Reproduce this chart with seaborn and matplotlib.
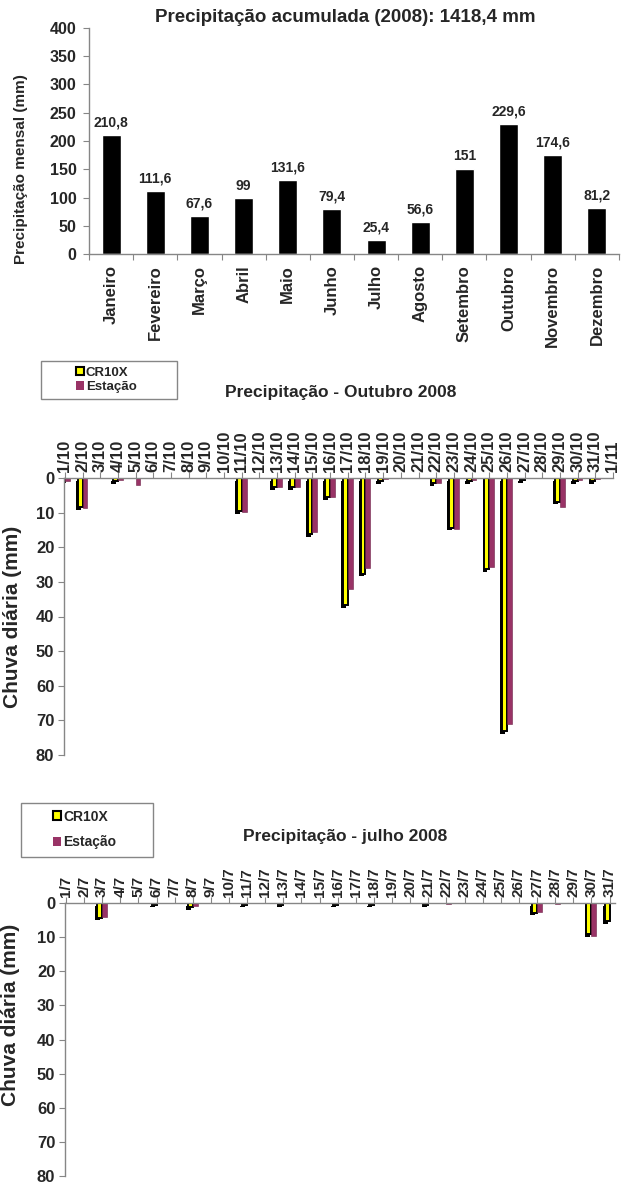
import numpy as np
import pandas as pd
import matplotlib
matplotlib.use("Agg")
import matplotlib.pyplot as plt
import seaborn as sns
from matplotlib import patheffects as pe
from matplotlib.patches import Rectangle, Patch

# ---------------- data ----------------
meses = ['Janeiro', 'Fevereiro', 'Março', 'Abril', 'Maio', 'Junho', 'Julho',
         'Agosto', 'Setembro', 'Outubro', 'Novembro', 'Dezembro']
precip_mensal = [210.8, 111.6, 67.6, 99, 131.6, 79.4, 25.4, 56.6, 151, 229.6, 174.6, 81.2]

dias_out = ['1/10', '2/10', '3/10', '4/10', '5/10', '6/10', '7/10', '8/10', '9/10', '10/10',
            '11/10', '12/10', '13/10', '14/10', '15/10', '16/10', '17/10', '18/10', '19/10',
            '20/10', '21/10', '22/10', '23/10', '24/10', '25/10', '26/10', '27/10', '28/10',
            '29/10', '30/10', '31/10', '1/11']
cr10x_out = [1.2, 8.4, 0, 0.8, 0, 0, 0, 0, 0, 0, 9.5, 0, 2.6, 2.6, 16.3, 5.6, 36.6, 27.6,
             0.8, 0, 0, 1.4, 14.3, 1.0, 26.4, 73.2, 0.6, 0, 6.8, 0.8, 0.8, 0]
estacao_out = [0.8, 8.8, 0, 0.5, 2.0, 0, 0, 0, 0, 0, 9.8, 0, 2.5, 2.5, 15.6, 5.6, 32.1, 26.0,
               0.3, 0, 0, 1.5, 14.8, 0.6, 25.8, 71.0, 0, 0, 8.3, 0.6, 0.3, 0]

dias_jul = ['1/7', '2/7', '3/7', '4/7', '5/7', '6/7', '7/7', '8/7', '9/7', '10/7', '11/7',
            '12/7', '13/7', '14/7', '15/7', '16/7', '17/7', '18/7', '19/7', '20/7', '21/7',
            '22/7', '23/7', '24/7', '25/7', '26/7', '27/7', '28/7', '29/7', '30/7', '31/7']
cr10x_jul = [0, 0, 4.3, 0, 0, 0.5, 0, 1.2, 0, 0, 0.5, 0, 0.5, 0, 0, 0.5, 0, 0.5, 0, 0,
             0.5, 0, 0, 0, 0, 0, 2.8, 0, 0, 9.2, 5.3]
estacao_jul = [0, 0, 4.1, 0, 0, 0, 0, 0.9, 0, 0, 0, 0, 0, 0, 0, 0, 0, 0, 0, 0,
               0, 0.3, 0, 0, 0, 0, 2.6, 0.3, 0, 9.6, 0]

series = ['CR10X', 'Estação']

# ---------------- style ----------------
sns.set_theme(style='white')
plt.rcParams['font.family'] = ['Liberation Sans', 'DejaVu Sans']
plt.rcParams['font.weight'] = 'bold'
plt.rcParams['axes.labelweight'] = 'bold'

AMARELO = '#FFFF00'
MAGENTA = '#993366'
CINZA = '#868686'

W, H = 632, 1185
fig = plt.figure(figsize=(W / 100, H / 100), dpi=100)


def fx(px):
    return px / W


def fy(py):
    return 1 - py / H


# ---------------- top chart ----------------
ax0 = fig.add_axes([fx(89), fy(254), fx(619) - fx(89), fy(28) - fy(254)])
sns.barplot(x=meses, y=precip_mensal, color='black', width=0.43, saturation=1,
            errorbar=None, ax=ax0)
rotulos = [('%g' % v).replace('.', ',') for v in precip_mensal]
ax0.bar_label(ax0.containers[0], labels=rotulos, padding=4, fontsize=10, fontweight='bold')
ax0.set_ylim(0, 400)
ax0.set_yticks(np.arange(0, 401, 50))
ax0.set_xlim(-0.5, 11.5)
ax0.set_xticks(np.arange(-0.5, 12, 1), minor=True)
ax0.tick_params(axis='x', which='major', length=0, pad=8, labelsize=12, labelrotation=90)
ax0.tick_params(axis='x', which='minor', bottom=True, length=4, width=0.8, color=CINZA)
ax0.tick_params(axis='y', left=True, length=4, width=0.8, color=CINZA, pad=5, labelsize=11.5)
for s in ['top', 'right']:
    ax0.spines[s].set_visible(False)
for s in ['left', 'bottom']:
    ax0.spines[s].set_color(CINZA)
    ax0.spines[s].set_linewidth(1)
ax0.set_ylabel('Precipitação mensal (mm)', fontsize=11)
ax0.yaxis.set_label_coords((28 - 89) / 530, (254 - 169) / 226)
fig.text(fx(345), fy(17), 'Precipitação acumulada (2008): 1418,4 mm', ha='center',
         va='center', fontsize=13.5, fontweight='bold')


# ---------------- daily charts ----------------
def painel(ax, dias, cr, est, xmax, lblsize, ylabel_xy):
    n = len(dias)
    df = pd.DataFrame({'dia': dias * 2,
                       'serie': [series[0]] * n + [series[1]] * n,
                       'valor': cr + est})
    sns.barplot(data=df, x='dia', y='valor', hue='serie', hue_order=series,
                palette=[AMARELO, MAGENTA], width=0.55, saturation=1, errorbar=None,
                legend=False, ax=ax)
    for bar in ax.containers[0]:
        if bar.get_height() <= 0:
            bar.set_visible(False)
            continue
        bar.set_edgecolor('black')
        bar.set_linewidth(1.4)
        bar.set_path_effects([pe.SimplePatchShadow(offset=(-1.3, -2.0), shadow_rgbFace='black',
                                                   alpha=1), pe.Normal()])
    for bar in ax.containers[1]:
        if bar.get_height() <= 0:
            bar.set_visible(False)
            continue
        bar.set_edgecolor('#6e2248')
        bar.set_linewidth(0.4)
    ax.set_ylim(80, 0)
    ax.set_xlim(-0.05, xmax)
    ax.set_yticks(np.arange(0, 81, 10))
    ax.xaxis.tick_top()
    ax.set_xlabel('')
    ax.tick_params(axis='x', which='major', top=True, bottom=False, length=4, width=0.8,
                   color=CINZA, pad=0.5, labelsize=lblsize, labelrotation=90)
    ax.tick_params(axis='y', left=True, length=4, width=0.8, color=CINZA, pad=3, labelsize=12)
    for s in ['bottom', 'right']:
        ax.spines[s].set_visible(False)
    for s in ['left', 'top']:
        ax.spines[s].set_color(CINZA)
        ax.spines[s].set_linewidth(1)
    ax.set_ylabel('Chuva diária (mm)', fontsize=15)
    ax.yaxis.set_label_coords(*ylabel_xy)


def legenda(box, mx, my, fsize, spacing):
    x0, y0, x1, y1 = box
    fig.add_artist(Rectangle((fx(x0), fy(y1)), fx(x1) - fx(x0), fy(y0) - fy(y1),
                             transform=fig.transFigure, fill=False, edgecolor=CINZA, lw=1))
    handles = [Patch(facecolor=AMARELO, edgecolor='black', linewidth=1.5),
               Patch(facecolor=MAGENTA, edgecolor='none')]
    fig.legend(handles, series, loc='center left', bbox_to_anchor=(fx(mx), fy(my)),
               bbox_transform=fig.transFigure, frameon=False, fontsize=fsize,
               handlelength=0.6, handleheight=0.6, handletextpad=0.15,
               labelspacing=spacing, borderpad=0, borderaxespad=0)


# October
ax1 = fig.add_axes([fx(64), fy(755), fx(613) - fx(64), fy(478) - fy(755)])
painel(ax1, dias_out, cr10x_out, estacao_out, 31.0, 12, ((22 - 64) / 549, 0.5))
fig.text(fx(341), fy(393), 'Precipitação - Outubro 2008', ha='center', va='center',
         fontsize=12.5, fontweight='bold')
legenda((41, 361, 177, 399), 76, 380, 9.5, 0.2)

# July
ax2 = fig.add_axes([fx(65), fy(1176), fx(615) - fx(65), fy(903) - fy(1176)])
painel(ax2, dias_jul, cr10x_jul, estacao_jul, 30.3, 11, ((20 - 65) / 550, 0.59))
fig.text(fx(345), fy(837), 'Precipitação - julho 2008', ha='center', va='center',
         fontsize=12.5, fontweight='bold')
legenda((21, 803, 153, 857), 53, 829.5, 10, 0.85)

fig.savefig('out.png', dpi=100)
